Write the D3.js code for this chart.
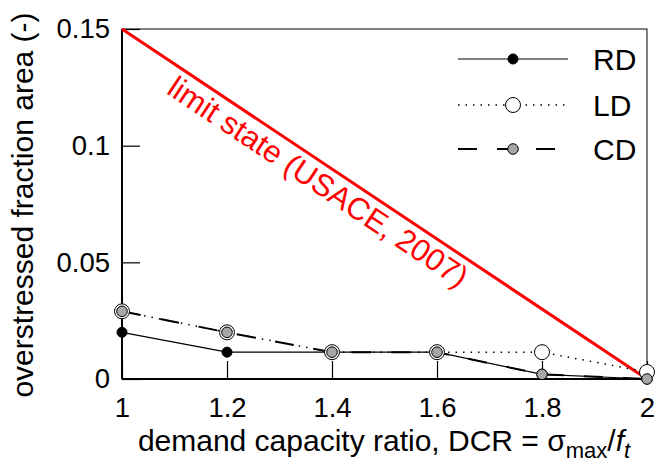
<!DOCTYPE html>
<html>
<head>
<meta charset="utf-8">
<script src="https://cdn.jsdelivr.net/npm/d3@7"></script>
<style>
  html, body { margin: 0; padding: 0; background: #fff; }
  svg { display: block; font-family: "Liberation Sans", Arial, sans-serif; }
</style>
</head>
<body>
<svg id="chart" width="656" height="465"></svg>
<script>
// Demand capacity ratio (x) and overstressed fraction area per damage model
const dcr = [1, 1.2, 1.4, 1.6, 1.8, 2];
const rdValues = [0.020, 0.0115, 0.0115, 0.0115, 0.002, 0];
const ldValues = [0.029, 0.020, 0.0115, 0.0115, 0.0115, 0.003];
const cdValues = [0.029, 0.020, 0.0115, 0.0115, 0.002, 0];

// USACE (2007) limit state line end points
const limitDcr = [1, 2];
const limitArea = [0.15, 0];

const xTicks = [1, 1.2, 1.4, 1.6, 1.8, 2];
const yTicks = [0, 0.05, 0.1, 0.15];
const seriesNames = ["RD", "LD", "CD"];

const svg = d3.select("#chart");
const plotL = 122, plotR = 647, plotT = 29, plotB = 379;

const x = d3.scaleLinear().domain([1, 2]).range([plotL, plotR]);
const y = d3.scaleLinear().domain([0, 0.15]).range([plotB, plotT]);

// Axes with inward ticks
const xAxis = d3.axisBottom(x).tickValues(xTicks)
  .tickFormat(d3.format("~g")).tickSizeInner(-18).tickSizeOuter(0).tickPadding(18);
const yAxis = d3.axisLeft(y).tickValues(yTicks)
  .tickFormat(d3.format("~g")).tickSizeInner(-18).tickSizeOuter(0).tickPadding(12);

const gx = svg.append("g").attr("transform", `translate(0,${plotB})`).call(xAxis);
const gy = svg.append("g").attr("transform", `translate(${plotL},0)`).call(yAxis);
[gx, gy].forEach(g => {
  g.select(".domain").remove();
  g.selectAll(".tick line").attr("stroke", "#000").attr("stroke-width", 1.2);
  g.selectAll(".tick text").attr("fill", "#000")
    .style("font-family", "'Liberation Sans', Arial, sans-serif").style("font-size", "27.5px");
});

// Plot frame
svg.append("rect").attr("x", plotL).attr("y", plotT)
  .attr("width", plotR - plotL).attr("height", plotB - plotT)
  .attr("fill", "none").attr("stroke", "#000").attr("stroke-width", 1);
svg.append("line").attr("x1", plotL).attr("x2", plotL).attr("y1", plotT).attr("y2", plotB)
  .attr("stroke", "#000").attr("stroke-width", 2);
svg.append("line").attr("x1", plotL).attr("x2", plotR).attr("y1", plotB).attr("y2", plotB)
  .attr("stroke", "#000").attr("stroke-width", 2);

// Limit state line
const limitPts = limitDcr.map((d, i) => [x(d), y(limitArea[i])]);
svg.append("line")
  .attr("x1", limitPts[0][0]).attr("y1", limitPts[0][1])
  .attr("x2", limitPts[1][0]).attr("y2", limitPts[1][1])
  .attr("stroke", "#ff0000").attr("stroke-width", 3);

const ang = Math.atan2(limitPts[1][1] - limitPts[0][1], limitPts[1][0] - limitPts[0][0]);
const along = 248;
const lx = limitPts[0][0] + along * Math.cos(ang);
const ly = limitPts[0][1] + along * Math.sin(ang);
svg.append("text")
  .attr("transform", `translate(${lx},${ly}) rotate(${ang * 180 / Math.PI})`)
  .attr("y", 29)
  .attr("text-anchor", "middle")
  .attr("fill", "#ff0000")
  .style("font-size", "31px")
  .text("limit state (USACE, 2007)");

// Series styles
const styles = {
  RD: { values: rdValues, dash: null, width: 1.2, fill: "#000", r: 5 },
  LD: { values: ldValues, dash: "1.5,6", width: 1.5, fill: "#fff", r: 7.5 },
  CD: { values: cdValues, dash: "19,20", width: 2, fill: "#a6a6a6", r: 5.3 }
};

const line = d3.line().x(d => x(d[0])).y(d => y(d[1]));

seriesNames.forEach(name => {
  const s = styles[name];
  const pts = dcr.map((d, i) => [d, s.values[i]]);
  svg.append("path").datum(pts)
    .attr("d", line).attr("fill", "none").attr("stroke", "#000")
    .attr("stroke-width", s.width)
    .attr("stroke-dasharray", s.dash);
});

seriesNames.forEach(name => {
  const s = styles[name];
  const pts = dcr.map((d, i) => [d, s.values[i]]);
  svg.append("g").selectAll("circle").data(pts).join("circle")
    .attr("cx", d => x(d[0])).attr("cy", d => y(d[1])).attr("r", s.r)
    .attr("fill", s.fill).attr("stroke", "#000").attr("stroke-width", 1);
});

// Legend
const legendY = [59, 105, 149];
seriesNames.forEach((name, i) => {
  const s = styles[name];
  const g = svg.append("g").attr("transform", `translate(0,${legendY[i]})`);
  g.append("line").attr("x1", 458).attr("x2", 568).attr("y1", 0).attr("y2", 0)
    .attr("stroke", "#000").attr("stroke-width", s.width).attr("stroke-dasharray", s.dash);
  g.append("circle").attr("cx", 513).attr("cy", 0).attr("r", s.r)
    .attr("fill", s.fill).attr("stroke", "#000").attr("stroke-width", 1);
  g.append("text").attr("x", 593).attr("y", 0).attr("dy", "0.36em")
    .style("font-size", "30px").attr("fill", "#000").text(name);
});

// Axis titles
svg.append("text")
  .attr("transform", `translate(33,205) rotate(-90)`)
  .attr("text-anchor", "middle").style("font-size", "30px").attr("fill", "#000")
  .text("overstressed fraction area (-)");

const xl = svg.append("text").attr("x", 384).attr("y", 451)
  .attr("text-anchor", "middle").style("font-size", "30px").attr("fill", "#000");
xl.append("tspan").text("demand capacity ratio, DCR = \u03c3");
xl.append("tspan").attr("dy", 7).style("font-size", "22px").text("max");
xl.append("tspan").attr("dy", -7).text("/");
xl.append("tspan").style("font-style", "italic").text("f");
xl.append("tspan").attr("dy", 7).style("font-size", "22px").style("font-style", "italic").text("t");
</script>
</body>
</html>
